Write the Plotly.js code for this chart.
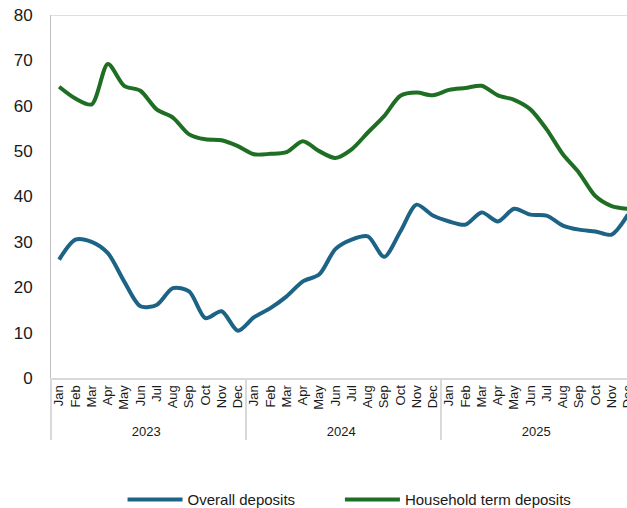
<!DOCTYPE html>
<html>
<head>
<meta charset="utf-8">
<script src="https://cdn.plot.ly/plotly-3.0.1.min.js"></script>
<style>
html, body { margin: 0; padding: 0; overflow: hidden; background: #fff; }
#chart { width: 645px; height: 508px; }
</style>
</head>
<body>
<div id="chart"></div>
<script>
var years = ["2023", "2024", "2025"];
var months = ["Jan", "Feb", "Mar", "Apr", "May", "Jun", "Jul", "Aug", "Sep", "Oct", "Nov", "Dec"];

var overallDeposits = [
  26.1, 30.5, 30.0, 27.5, 21.3, 15.8, 16.1, 19.8, 19.1, 13.2, 14.7, 10.4,
  13.4, 15.4, 18.0, 21.3, 22.8, 28.4, 30.5, 31.2, 26.7, 32.3, 38.2, 35.8,
  34.5, 33.8, 36.5, 34.5, 37.3, 36.0, 35.8, 33.6, 32.7, 32.3, 31.6, 36.0
];
var householdTermDeposits = [
  64.2, 61.6, 60.3, 69.2, 64.4, 63.3, 59.2, 57.4, 53.7, 52.6, 52.4, 51.1,
  49.3, 49.4, 49.8, 52.2, 50.0, 48.5, 50.4, 54.1, 57.7, 62.2, 62.9, 62.3,
  63.5, 63.9, 64.4, 62.3, 61.3, 59.2, 54.8, 49.3, 45.2, 40.1, 37.9, 37.3
];

var xYears = [], xMonths = [];
years.forEach(function (y) {
  months.forEach(function (m) { xYears.push(y); xMonths.push(m); });
});

var traces = [
  {
    type: "scatter", mode: "lines", name: "Overall deposits", legend: "legend",
    x: [xYears, xMonths], y: overallDeposits,
    line: { color: "#1D6386", width: 4, shape: "spline", smoothing: 0.8 }
  },
  {
    type: "scatter", mode: "lines", name: "Household term deposits", legend: "legend2",
    x: [xYears, xMonths], y: householdTermDeposits,
    line: { color: "#1E6E23", width: 4, shape: "spline", smoothing: 0.8 }
  }
];

var legendBase = {
  orientation: "h",
  xref: "container", yref: "container",
  xanchor: "left", y: 0.016, yanchor: "middle",
  font: { size: 15, color: "#1a1a1a" },
  itemwidth: 55, bgcolor: "rgba(0,0,0,0)"
};

var layout = {
  width: 645, height: 508,
  margin: { l: 51, r: 9, t: 15, b: 130 },
  paper_bgcolor: "#fff", plot_bgcolor: "#fff",
  font: { family: "Liberation Sans, Arial, sans-serif", color: "#1a1a1a" },
  showlegend: true,
  legend: Object.assign({}, legendBase, { x: 0.19 }),
  legend2: Object.assign({}, legendBase, { x: 0.527 }),
  xaxis: {
    type: "multicategory",
    range: [-0.5, 35.5], autorange: false, automargin: false,
    showline: true, linecolor: "#d9d9d9", linewidth: 2,
    showgrid: false, zeroline: false,
    tickangle: -90, tickfont: { size: 13, color: "#1a1a1a" },
    showdividers: true, dividercolor: "#d9d9d9", dividerwidth: 2,
    ticks: ""
  },
  yaxis: {
    range: [0, 80], autorange: false, automargin: false, dtick: 10, tick0: 0,
    showline: true, linecolor: "#bfbfbf", linewidth: 1,
    showgrid: false, zeroline: false,
    ticks: "outside", ticklen: 14, tickcolor: "rgba(0,0,0,0)",
    tickfont: { size: 17, color: "#1a1a1a" }
  },
  shapes: [
    { type: "line", xref: "paper", yref: "y", x0: 0, x1: 1, y0: 80, y1: 80,
      line: { color: "#bfbfbf", width: 1 } }
  ]
};

Plotly.newPlot("chart", traces, layout, { displayModeBar: false, staticPlot: true });
</script>
</body>
</html>
